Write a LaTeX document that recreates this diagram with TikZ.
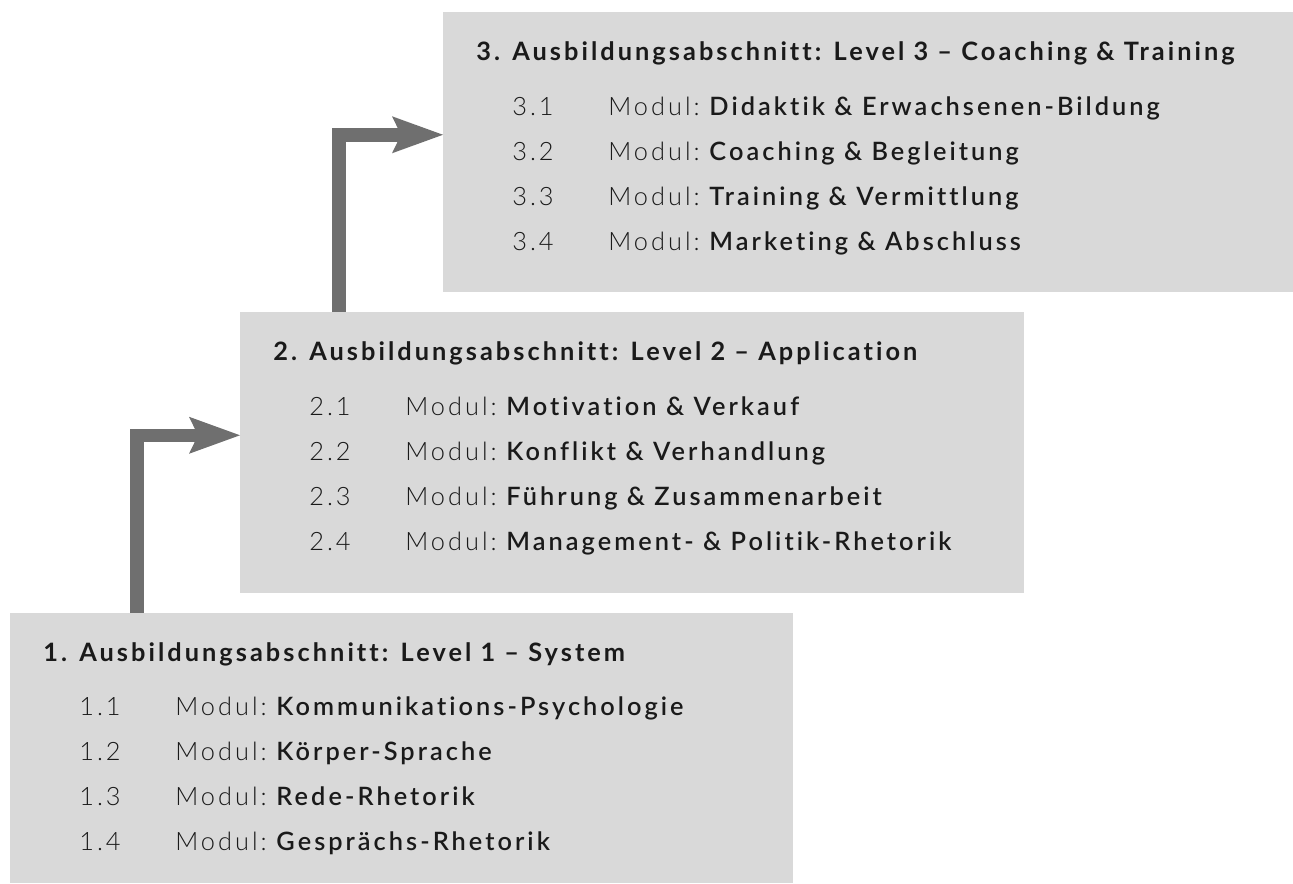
\documentclass[tikz,border=0pt]{standalone}
\usepackage{fontspec}
\setmainfont{Lato}[LetterSpace=12,Ligatures={NoCommon}]
\newfontfamily\lightfont{Lato Light}[LetterSpace=12,Ligatures={NoCommon}]
\usetikzlibrary{arrows.meta,calc}
\definecolor{boxgray}{HTML}{D9D9D9}
\definecolor{arrowgray}{HTML}{6F6F6F}
\definecolor{txt}{HTML}{1A1A1A}
\newcommand{\modul}[1]{{\lightfont Modul:}\hspace{5pt}\textbf{#1}}
\begin{document}
\begin{tikzpicture}[x=0.75pt,y=-0.75pt,
  box/.style={fill=boxgray, draw=none, anchor=north west, inner sep=0pt},
  ttl/.style={anchor=base west, inner sep=0pt, text=txt, font=\fontsize{19}{22}\selectfont\bfseries},
  num/.style={anchor=base west, inner sep=0pt, text=txt, font=\fontsize{19}{22}\selectfont\lightfont},
  conn/.style={draw=arrowgray, line width=10.125pt, line join=miter,
    -{Stealth[length=38.25pt,width=27.75pt,inset=6.75pt,line width=0pt]}}
]
\useasboundingbox (0,0) rectangle (1293,883);
% boxes
\node[box, minimum width=587.25pt, minimum height=202.5pt] (b1) at (10,613) {};
\node[box, minimum width=588pt, minimum height=210.75pt] (b2) at (240,312) {};
\node[box, minimum width=637.5pt, minimum height=210pt] (b3) at (443,12) {};
% connectors
\draw[conn] ($(b1.north west)+(127,0)$) |- ($(b2.west)+(0,-17.5)$);
\draw[conn] ($(b2.north west)+(99,0)$) |- ($(b3.west)+(0,-17.5)$);
% box 1
\node[ttl] (t1) at ($(b1.north west)+(33,48)$) {1. Ausbildungsabschnitt: Level 1 – System};
\node[num] (n11) at ($(b1.north west)+(69,102)$) {1.1};
\node[num] (m11) at ($(b1.north west)+(165,102)$) {\modul{Kommunikations-Psychologie}};
\node[num] (n12) at ($(b1.north west)+(69,147)$) {1.2};
\node[num] (m12) at ($(b1.north west)+(165,147)$) {\modul{Körper-Sprache}};
\node[num] (n13) at ($(b1.north west)+(69,192)$) {1.3};
\node[num] (m13) at ($(b1.north west)+(165,192)$) {\modul{Rede-Rhetorik}};
\node[num] (n14) at ($(b1.north west)+(69,237)$) {1.4};
\node[num] (m14) at ($(b1.north west)+(165,237)$) {\modul{Gesprächs-Rhetorik}};
% box 2
\node[ttl] (t2) at ($(b2.north west)+(33,48)$) {2. Ausbildungsabschnitt: Level 2 – Application};
\node[num] (n21) at ($(b2.north west)+(69,103)$) {2.1};
\node[num] (m21) at ($(b2.north west)+(165,103)$) {\modul{Motivation \& Verkauf}};
\node[num] (n22) at ($(b2.north west)+(69,148)$) {2.2};
\node[num] (m22) at ($(b2.north west)+(165,148)$) {\modul{Konflikt \& Verhandlung}};
\node[num] (n23) at ($(b2.north west)+(69,193)$) {2.3};
\node[num] (m23) at ($(b2.north west)+(165,193)$) {\modul{Führung \& Zusammenarbeit}};
\node[num] (n24) at ($(b2.north west)+(69,238)$) {2.4};
\node[num] (m24) at ($(b2.north west)+(165,238)$) {\modul{Management- \& Politik-Rhetorik}};
% box 3
\node[ttl] (t3) at ($(b3.north west)+(33,48)$) {3. Ausbildungsabschnitt: Level 3 – Coaching \& Training};
\node[num] (n31) at ($(b3.north west)+(69,103)$) {3.1};
\node[num] (m31) at ($(b3.north west)+(165,103)$) {\modul{Didaktik \& Erwachsenen-Bildung}};
\node[num] (n32) at ($(b3.north west)+(69,148)$) {3.2};
\node[num] (m32) at ($(b3.north west)+(165,148)$) {\modul{Coaching \& Begleitung}};
\node[num] (n33) at ($(b3.north west)+(69,193)$) {3.3};
\node[num] (m33) at ($(b3.north west)+(165,193)$) {\modul{Training \& Vermittlung}};
\node[num] (n34) at ($(b3.north west)+(69,238)$) {3.4};
\node[num] (m34) at ($(b3.north west)+(165,238)$) {\modul{Marketing \& Abschluss}};
\end{tikzpicture}
\end{document}
